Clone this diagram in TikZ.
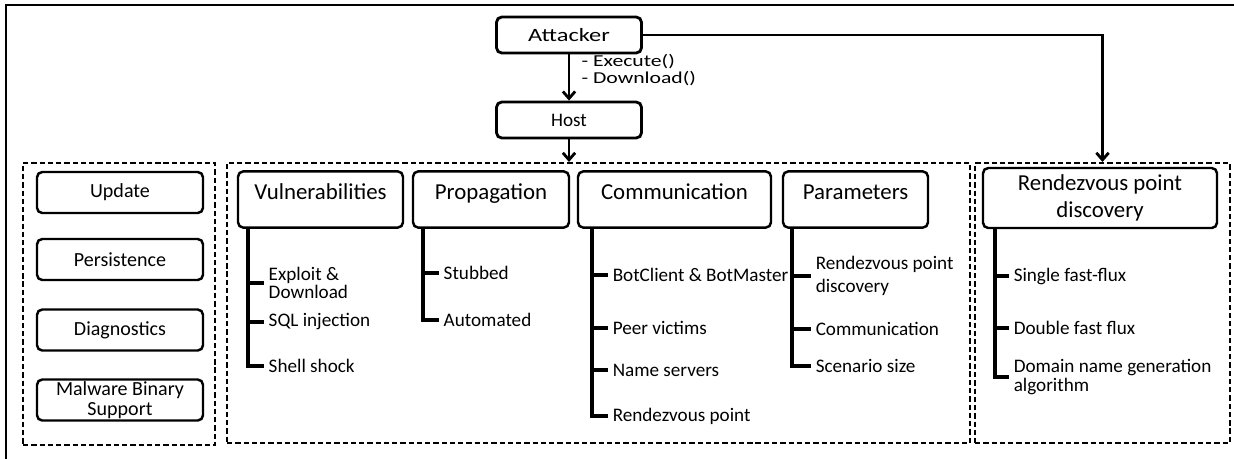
\documentclass[tikz,border=0pt]{standalone}
\usepackage{fontspec}
\setmainfont{Carlito}
\newfontfamily\widefont[FakeStretch=1.3]{Carlito}
\usetikzlibrary{shapes,arrows.meta,positioning,calc}

\tikzset{
  box/.style={draw, line width=1.4pt, rounded corners=3pt, inner sep=0pt, align=center},
  head/.style={box, font=\fontsize{13}{15}\selectfont},
  onerow/.style={text height=16pt, text depth=16pt},
  side/.style={box, font=\fontsize{11.4}{11.6}\selectfont, minimum width=166*0.02cm, minimum height=41*0.02cm},
  item/.style={anchor=west, inner sep=2.5pt, align=left, font=\fontsize{10.9}{10.6}\selectfont},
  tree/.style={line width=2.5pt},
  group/.style={draw, line width=1.2pt, dash pattern=on 3pt off 1.7pt, inner sep=0pt},
  arr/.style={line width=1.6pt, -{Straight Barb[length=4pt,width=7pt]}},
}

\begin{document}
\begin{tikzpicture}[x=0.02cm,y=-0.02cm]
    \useasboundingbox (0,0) rectangle (1234,458);
    \draw[line width=1.6pt] (6,460) -- (6,5) -- (1236,5);
    % top
    \node[box, line width=1.6pt, font=\widefont\fontsize{10.7}{12}\selectfont, minimum width=145*0.02cm, minimum height=36*0.02cm] (atk) at (569,35) {Attacker};
    \node[box, line width=1.6pt, font=\fontsize{10.9}{12}\selectfont, minimum width=145*0.02cm, minimum height=36*0.02cm] (host) at (569,120) {Host};
    % groups
    \node[group, minimum width=192*0.02cm, minimum height=282*0.02cm] (misc) at (119,304) {};
    \node[group, minimum width=743*0.02cm, minimum height=280*0.02cm] (core) at (598.5,303) {};
    \node[group, minimum width=255*0.02cm, minimum height=280*0.02cm] (rdvgrp) at (1102.5,303) {};
    \draw[arr] (atk) -- node[right, pos=.34, xshift=3pt, align=left, font=\widefont\fontsize{9.5}{9.2}\selectfont] {- Execute()\\- Download()} (host);
    \draw[arr] (host.south) -- (host.south |- core.north);
    \draw[arr] (atk.east) -| (rdvgrp.north);
    % side modules
    \node[side] (upd) at (120,192.5) {Update};
    \node[side] (pers) at (120,259.5) {Persistence};
    \node[side] (diag) at (120,330) {Diagnostics};
    \node[side] (bin) at (120,400) {Malware Binary\\Support};
    % headers
    \node[head, onerow, minimum width=165*0.02cm] (vul) at (320.5,199.5) {Vulnerabilities};
    \node[head, onerow, minimum width=156*0.02cm] (prop) at (491,199.5) {Propagation};
    \node[head, onerow, minimum width=193*0.02cm] (comm) at (674.5,199.5) {Communication};
    \node[head, onerow, minimum width=145*0.02cm] (par) at (855.5,199.5) {Parameters};
    \node[head, minimum width=234*0.02cm, minimum height=60*0.02cm] (rdv) at (1100,198) {Rendezvous point\\discovery};
    % vulnerabilities
    \node[item] (v1) at (264,283) {Exploit \&\\Download};
    \node[item] (v2) at (264,322) {SQL injection};
    \node[item] (v3) at (264,366) {Shell shock};
    \draw[tree] ($(vul.south west)+(11,0)$) |- (v1.west);
    \draw[tree] ($(vul.south west)+(11,0)$) |- (v2.west);
    \draw[tree] ($(vul.south west)+(11,0)$) |- (v3.west);
    % propagation
    \node[item] (p1) at (439,273) {Stubbed};
    \node[item] (p2) at (439,320) {Automated};
    \draw[tree] ($(prop.south west)+(11,0)$) |- (p1.west);
    \draw[tree] ($(prop.south west)+(11,0)$) |- (p2.west);
    % communication
    \node[item] (c1) at (608,275) {BotClient \& BotMaster};
    \node[item] (c2) at (608,328) {Peer victims};
    \node[item] (c3) at (608,370) {Name servers};
    \node[item] (c4) at (608,416) {Rendezvous point};
    \draw[tree] ($(comm.south west)+(15,0)$) |- (c1.west);
    \draw[tree] ($(comm.south west)+(15,0)$) |- (c2.west);
    \draw[tree] ($(comm.south west)+(15,0)$) |- (c3.west);
    \draw[tree] ($(comm.south west)+(15,0)$) |- (c4.west);
    % parameters
    \node[item, font=\fontsize{10.9}{13}\selectfont] (a1) at (811,276) {Rendezvous point\\discovery};
    \node[item] (a2) at (811,329) {Communication};
    \node[item] (a3) at (811,366) {Scenario size};
    \draw[tree] ($(par.south west)+(10,0)$) |- (a1.west);
    \draw[tree] ($(par.south west)+(10,0)$) |- (a2.west);
    \draw[tree] ($(par.south west)+(10,0)$) |- (a3.west);
    % rendezvous point discovery
    \node[item] (r1) at (1009,276) {Single fast-flux};
    \node[item] (r2) at (1009,328) {Double fast flux};
    \node[item] (r3) at (1009,377) {Domain name generation\\algorithm};
    \draw[tree] ($(rdv.south west)+(13,0)$) |- (r1.west);
    \draw[tree] ($(rdv.south west)+(13,0)$) |- (r2.west);
    \draw[tree] ($(rdv.south west)+(13,0)$) |- (r3.west);
\end{tikzpicture}
\end{document}
